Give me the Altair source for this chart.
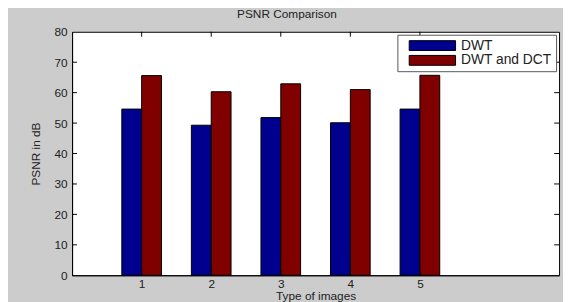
import altair as alt
import pandas as pd

# ---- data ----
image_types = [1, 2, 3, 4, 5]
dwt = [54.6, 49.3, 51.8, 50.1, 54.6]
dwt_dct = [65.6, 60.3, 62.9, 61.0, 65.7]
series_names = ["DWT", "DWT and DCT"]
series_colors = ["#00008F", "#800000"]
y_ticks = [0, 10, 20, 30, 40, 50, 60, 70, 80]

BAR_W = 0.285
FONT = "Liberation Sans"
TXT = "#222222"

rows = []
for t, a, b in zip(image_types, dwt, dwt_dct):
    rows.append({"type": t, "series": series_names[0], "value": a, "side": -1})
    rows.append({"type": t, "series": series_names[1], "value": b, "side": 0})
df = pd.DataFrame(rows)

x_scale = alt.Scale(domain=[0, 7], nice=False, zero=False)
y_scale = alt.Scale(domain=[0, 80], nice=False)

x_axis = alt.Axis(values=image_types, format="d", tickSize=0, grid=False,
                  labelPadding=3, labelOverlap=False, labelFlush=False,
                  title="Type of images", titlePadding=2,
                  labelFont=FONT, labelFontSize=12, labelColor=TXT,
                  titleFont=FONT, titleFontSize=12, titleFontWeight="normal",
                  titleColor=TXT, domainColor="black")
y_axis = alt.Axis(values=y_ticks, tickSize=0, grid=False, labelPadding=5,
                  labelOverlap=False, labelFlush=False,
                  title="PSNR in dB", titlePadding=12,
                  labelFont=FONT, labelFontSize=12, labelColor=TXT,
                  titleFont=FONT, titleFontSize=12, titleFontWeight="normal",
                  titleColor=TXT, domainColor="black")

bars = alt.Chart(df).transform_calculate(
    x0=f"datum.type + datum.side * {BAR_W}",
    x1=f"datum.type + (datum.side + 1) * {BAR_W}",
    base="0",
).mark_bar(stroke="black", strokeWidth=1, opacity=1).encode(
    x=alt.X("x0:Q", scale=x_scale, axis=x_axis, title="Type of images"),
    x2="x1:Q",
    y=alt.Y("value:Q", scale=y_scale, axis=y_axis, title="PSNR in dB"),
    y2="base:Q",
    color=alt.Color("series:N",
                    scale=alt.Scale(domain=series_names, range=series_colors),
                    legend=alt.Legend(orient="none", legendX=330, legendY=3, title=None,
                                      fillColor="white", strokeColor="#555555",
                                      padding=4, symbolType="M-4.7,-1H4.7V1H-4.7Z",
                                      symbolSize=100, symbolStrokeColor="black",
                                      symbolStrokeWidth=1, symbolOpacity=1,
                                      symbolOffset=24.5, labelOffset=22, rowPadding=1,
                                      labelFont=FONT, labelFontSize=14, labelColor=TXT)),
)

# inward tick marks (MATLAB style), built from tick value arrays
tick_rows = []
for v in y_ticks[1:-1]:
    tick_rows.append({"a": 0.0, "b": 0.07, "c": v, "d": v})
    tick_rows.append({"a": 6.93, "b": 7.0, "c": v, "d": v})
for t in image_types:
    tick_rows.append({"a": t, "b": t, "c": 80.0, "d": 78.4})
    tick_rows.append({"a": t, "b": t, "c": 0.0, "d": 1.6})
ticks = alt.Chart(pd.DataFrame(tick_rows)).mark_rule(color="black", strokeWidth=1).encode(
    x=alt.X("a:Q", scale=x_scale, axis=x_axis, title="Type of images"), x2="b:Q",
    y=alt.Y("c:Q", scale=y_scale, axis=y_axis, title="PSNR in dB"), y2="d:Q",
)

chart = alt.layer(bars, ticks).properties(
    width=494, height=247,
    background="#cccccc",
    padding={"left": 65, "top": 22, "right": 4, "bottom": 25},
    autosize=alt.AutoSizeParams(type="none"),
    title=alt.TitleParams("PSNR Comparison", font=FONT, fontSize=12, fontWeight="normal",
                          color=TXT, dx=-29, offset=5),
).configure_view(stroke="black", strokeWidth=1, fill="white")

chart.save("out.html", embed_options={"renderer": "svg", "actions": False})
